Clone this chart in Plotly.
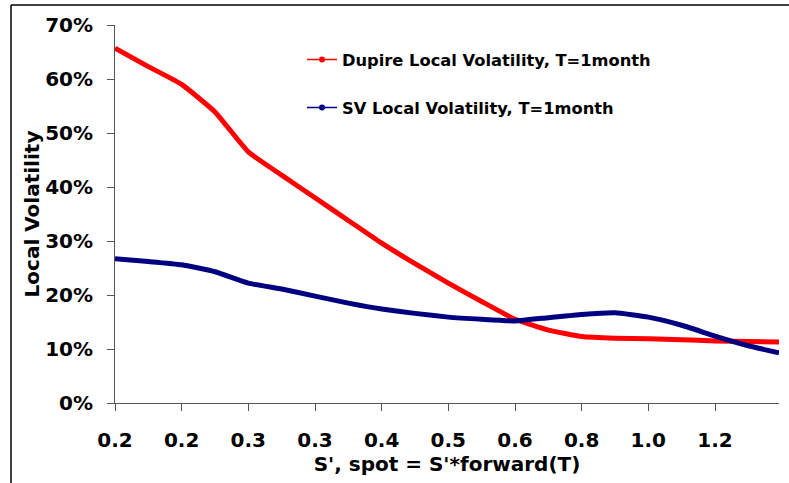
import plotly.graph_objects as go

# category positions along the S' grid (tick k sits at position k)
s_pos = [0, 0.5, 1, 1.5, 2, 2.5, 3, 3.5, 4, 4.5, 5, 5.5, 6, 6.5, 7, 7.5, 8, 8.5, 9, 9.5, 9.96]
tick_pos = [0, 1, 2, 3, 4, 5, 6, 7, 8, 9]
tick_labels = ["0.2", "0.2", "0.3", "0.3", "0.4", "0.5", "0.6", "0.8", "1.0", "1.2"]

# local volatility in percent
dupire_lv = [65.7, 62.3, 59.0, 53.9, 46.5, 42.2, 38.0, 33.8, 29.6, 25.8, 22.2,
             18.8, 15.5, 13.5, 12.3, 12.0, 11.9, 11.7, 11.5, 11.4, 11.3]
sv_lv = [26.7, 26.2, 25.6, 24.3, 22.2, 21.1, 19.8, 18.5, 17.4, 16.6, 15.9,
         15.5, 15.2, 15.8, 16.4, 16.7, 15.9, 14.4, 12.4, 10.6, 9.3]

names = ["Dupire Local Volatility, T=1month", "SV Local Volatility, T=1month"]
colors = ["#FF0000", "#000080"]

FONT = "DejaVu Sans"
fig = go.Figure()

for vals, name, col, lg in [(dupire_lv, names[0], colors[0], "legend"),
                            (sv_lv, names[1], colors[1], "legend2")]:
    fig.add_trace(go.Scatter(
        x=s_pos, y=[v / 100 for v in vals], mode="lines",
        line=dict(color=col, width=5, shape="spline", smoothing=0.4),
        showlegend=False, hoverinfo="skip"))
    fig.add_trace(go.Scatter(
        x=[None], y=[None], mode="lines+markers", name=name,
        line=dict(color=col, width=1.5), marker=dict(color=col, size=6),
        legend=lg))

L, R, T, B = 115, 10, 25, 80
W, H = 789, 483
pw = W - L - R
ph = H - T - B

def px_x(px):
    return (px - L) / pw

def px_y(py):
    return (H - B - py) / ph

legfont = dict(family=FONT, size=16.3, color="black", weight="bold")
fig.update_layout(
    width=W, height=H,
    margin=dict(l=L, r=R, t=T, b=B),
    paper_bgcolor="white", plot_bgcolor="white",
    font=dict(family=FONT, color="black"),
    legend=dict(x=px_x(302), y=px_y(60), xanchor="left", yanchor="middle",
                font=legfont, bgcolor="rgba(0,0,0,0)", itemwidth=30),
    legend2=dict(x=px_x(302), y=px_y(108), xanchor="left", yanchor="middle",
                 font=legfont, bgcolor="rgba(0,0,0,0)", itemwidth=30),
    xaxis=dict(
        range=[0, 9.96], tickmode="array", tickvals=tick_pos, ticktext=tick_labels,
        showgrid=False, zeroline=False, showline=True, linecolor="#555", linewidth=1,
        ticks="outside", ticklen=7, tickcolor="#555", ticklabelstandoff=12,
        tickfont=dict(family=FONT, size=20, color="black", weight="bold"),
        title=dict(text="S', spot = S'*forward(T)", standoff=2,
                   font=dict(family=FONT, size=20, color="black", weight="bold")),
        automargin=False),
    yaxis=dict(
        range=[0, 0.7], tickmode="linear", tick0=0, dtick=0.1, tickformat=".0%",
        showgrid=False, zeroline=False, showline=True, linecolor="#555", linewidth=1,
        ticks="outside", ticklen=7, tickcolor="#555", ticklabelstandoff=10,
        tickfont=dict(family=FONT, size=20, color="black", weight="bold"),
        title=dict(text="Local Volatility", standoff=0,
                   font=dict(family=FONT, size=20, color="black", weight="bold")),
        automargin=False),
)

# chart-area frame (left and top edges visible)
fig.add_shape(type="line", xref="paper", yref="paper",
              x0=px_x(11), x1=px_x(11), y0=px_y(5), y1=px_y(490),
              line=dict(color="black", width=1.5))
fig.add_shape(type="line", xref="paper", yref="paper",
              x0=px_x(11), x1=px_x(800), y0=px_y(5), y1=px_y(5),
              line=dict(color="black", width=1.5))

fig.write_html("out.html")
